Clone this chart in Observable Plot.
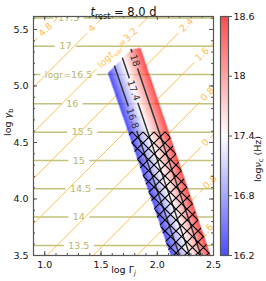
<!DOCTYPE html>
<html><head><meta charset="utf-8">
<script src="https://cdn.jsdelivr.net/npm/d3@7"></script>
<script src="https://cdn.jsdelivr.net/npm/@observablehq/plot@0.6"></script>
<style>
body{margin:0;background:#fff;}
#wrap{position:relative;width:266px;height:281px;font-family:"DejaVu Sans",sans-serif;}
#wrap svg{position:absolute;top:0;overflow:visible;}
</style></head><body>
<svg width="0" height="0" style="position:absolute"><defs>
<pattern id="xhatch" patternUnits="userSpaceOnUse" width="11" height="11">
<path d="M-1,-1L12,12M12,-1L-1,12" stroke="#000" stroke-width="1.2" fill="none"/>
</pattern></defs></svg>
<div id="wrap"></div>
<script>
// ---------------- data ----------------
const titleText = "*t*_{rest} = 8.0 d";
const xLabel = "log Γ_{*j*}";
const yLabel = "log *γ*_{b}";
const cbLabel = "log*ν*_{c} (Hz)";

const xTicks = [1.0, 1.5, 2.0, 2.5];
const yTicks = [3.5, 4.0, 4.5, 5.0, 5.5];
const cbTicks = [16.2, 16.8, 17.4, 18.0, 18.6];

// log r contours (olive, horizontal)
const logrLevels = [13.5, 14, 14.5, 15, 15.5, 16, 16.5, 17, 17.5];
const logrY      = [3.588, 3.840, 4.090, 4.340, 4.591, 4.842, 5.102, 5.352, 5.602];
const logrLabelX = [1.303, 1.303, 1.318, 1.303, 1.333, 1.244, 1.211, 1.184, 1.211];
const logrText   = ["13.5", "14", "14.5", "15", "15.5", "16", "logr=16.5", "17", "17.5"];

// log t_var contours (orange, diagonal): intercept = log γb − log Γj
const logtLevels    = [4.8, 4.0, 3.2, 2.4, 1.6, 0.8, 0, -0.8, -1.6];
const logtIntercept = [4.49, 4.09, 3.69, 3.28, 2.88, 2.48, 2.07, 1.68, 1.28];
const logtLabelX    = [1.007, 1.42, 1.647, 2.26, 2.40, 2.447, 2.429, 2.444, 2.414];
const logtText      = ["4.8", "4", "log*t*_{var}=3.2", "2.4", "1.6", "0.8", "0", "−0.8", "−1.6"];

// allowed band coloured by log ν_c: iso-lines (edges + contours)
const bandLevels  = [16.2, 16.8, 17.4, 18.0, 18.6];
const bandTopX    = [1.560, 1.6205, 1.6913, 1.7679, 1.851];
const bandTopY    = [5.117, 5.1755, 5.2463, 5.3229, 5.338];
const bandBottomX = [2.120, 2.198, 2.290, 2.389, 2.474];
const bandBottomY = 3.5;
const bandLabelY  = [null, 4.712, 4.960, 5.226, null];
const bandText    = [null, "16.8", "17.4", "18", null];
const hatchTopY   = 4.591;

// ---------------- layout ----------------
const W = 266, H = 281, mL = 33, mR = 53, mT = 16, mB = 26;
const xDom = [0.9, 2.5], yDom = [3.5, 5.615];
const kx = (W - mL - mR) / (xDom[1] - xDom[0]);
const ky = (H - mT - mB) / (yDom[1] - yDom[0]);
const FONT = "DejaVu Sans";
const fsTick = 9.5, fsLab = 9.5, fsTitle = 11.5;
const olive = "#c2c27e", oliveText = "#b8b86c", orange = "#ffbf4d", spine = "#555";

const ctx = document.createElement("canvas").getContext("2d");
function parseRich(str) {
  const out = []; let cur = {text: "", italic: false, sub: false};
  const push = () => { if (cur.text) out.push(cur); cur = {text: "", italic: cur.italic, sub: cur.sub}; };
  for (let i = 0; i < str.length; i++) {
    const c = str[i];
    if (c === "_" && str[i + 1] === "{") { push(); cur.sub = true; i++; }
    else if (c === "}" && cur.sub) { push(); cur.sub = false; }
    else if (c === "*") { push(); cur.italic = !cur.italic; }
    else cur.text += c;
  }
  push(); return out;
}
function textWidth(str, fs) {
  let w = 0;
  for (const t of parseRich(str)) {
    ctx.font = `${t.italic ? "italic " : ""}${t.sub ? fs * 0.7 : fs}px "${FONT}"`;
    w += ctx.measureText(t.text).width;
  }
  return w;
}
function richify(root) {
  d3.select(root).selectAll("text").each(function () {
    const s = this.textContent;
    if (!/[_*]/.test(s)) return;
    const fs = parseFloat(getComputedStyle(this).fontSize);
    const sel = d3.select(this); sel.text(null);
    let base = true;
    for (const t of parseRich(s)) {
      const ts = sel.append("tspan").text(t.text);
      if (t.italic) ts.attr("font-style", "italic");
      if (t.sub) { ts.attr("font-size", fs * 0.7); if (base) { ts.attr("dy", fs * 0.28); base = false; } }
      else if (!base) { ts.attr("dy", -fs * 0.28); base = true; }
    }
  });
}

// olive segments with gaps at labels
const oliveSegs = [], oliveLabels = [];
logrLevels.forEach((lev, i) => {
  const y = logrY[i], lx = logrLabelX[i];
  const g = (textWidth(logrText[i], fsLab) / 2 + 5) / kx;
  oliveSegs.push({x: xDom[0], y, z: i + "a"}, {x: lx - g, y, z: i + "a"},
                 {x: lx + g, y, z: i + "b"}, {x: xDom[1], y, z: i + "b"});
  oliveLabels.push({x: lx, y, text: logrText[i]});
});

// orange segments
const L45 = Math.hypot(kx, ky);
const orangeRot = Math.atan2(-ky, kx) * 180 / Math.PI;
const orangeSegs = [], orangeLabels = [];
logtIntercept.forEach((c, i) => {
  const x0 = Math.max(xDom[0], yDom[0] - c), x1 = Math.min(xDom[1], yDom[1] - c);
  const lx = logtLabelX[i];
  const g = (textWidth(logtText[i], fsLab) / 2 + 4) / L45;
  if (lx - g > x0) orangeSegs.push({x: x0, y: x0 + c, z: i + "a"}, {x: lx - g, y: lx - g + c, z: i + "a"});
  if (lx + g < x1) orangeSegs.push({x: lx + g, y: lx + g + c, z: i + "b"}, {x: x1, y: x1 + c, z: i + "b"});
  orangeLabels.push({x: lx, y: lx + c, text: logtText[i]});
});

// band iso-lines
const bandLines = bandLevels.map((lev, i) => ({lev, tx: bandTopX[i], ty: bandTopY[i], bx: bandBottomX[i], by: bandBottomY}));
const isoX = (l, y) => l.tx + (l.bx - l.tx) * (y - l.ty) / (l.by - l.ty);
const bandPoly = [...bandLines.map(l => [l.tx, l.ty]), [bandLines[4].bx, bandBottomY], [bandLines[0].bx, bandBottomY]];
function nuAt(x, y) {
  if (!d3.polygonContains(bandPoly, [x, y])) return NaN;
  const xs = bandLines.map(l => isoX(l, y));
  if (x <= xs[0]) return bandLevels[0];
  for (let k = 1; k < xs.length; k++) {
    if (x <= xs[k]) return bandLevels[k - 1] + (bandLevels[k] - bandLevels[k - 1]) * (x - xs[k - 1]) / (xs[k] - xs[k - 1]);
  }
  return bandLevels[bandLevels.length - 1];
}
const bandSegs = [], bandLabels = [];
bandLines.forEach((l, i) => {
  if (bandLabelY[i] == null) return;
  const ly = bandLabelY[i];
  const dxdy = (l.bx - l.tx) / (l.by - l.ty);
  const g = (textWidth(bandText[i], fsLab) / 2 + 3) / Math.hypot(dxdy * kx, ky);
  bandSegs.push({x: l.tx, y: l.ty, z: i + "a"}, {x: isoX(l, ly + g), y: ly + g, z: i + "a"},
                {x: isoX(l, ly - g), y: ly - g, z: i + "b"}, {x: l.bx, y: l.by, z: i + "b"});
  const rot = Math.atan2(ky * (l.ty - l.by), kx * (l.bx - l.tx)) * 180 / Math.PI;
  bandLabels.push({x: isoX(l, ly), y: ly, text: bandText[i], rot});
});
const hatchRows = [bandBottomY, hatchTopY].map(y => ({y, x1: isoX(bandLines[0], y), x2: isoX(bandLines[4], y)}));

// ticks
const xMinor = d3.range(9, 26).map(d => d / 10);
const yMinor = d3.range(35, 57).map(d => d / 10);
const tMaj = 4, tMin = 2;

const colorScale = {type: "linear", domain: [16.2, 17.4, 18.6], range: ["#0000ff", "#ffffff", "#ff0000"]};

const main = Plot.plot({
  width: W, height: H, marginLeft: mL, marginRight: mR, marginTop: mT, marginBottom: mB,
  style: {fontFamily: FONT, background: "transparent", overflow: "visible"},
  x: {domain: xDom, label: null},
  y: {domain: yDom, label: null},
  color: colorScale,
  marks: [
    Plot.line(oliveSegs, {x: "x", y: "y", z: "z", stroke: olive, strokeWidth: 1.5}),
    Plot.text(oliveLabels, {x: "x", y: "y", text: "text", fill: oliveText, fontSize: fsLab, clip: true}),
    Plot.line(orangeSegs, {x: "x", y: "y", z: "z", stroke: orange, strokeWidth: 1}),
    Plot.text(orangeLabels, {x: "x", y: "y", text: "text", fill: orange, fontSize: fsLab, rotate: orangeRot}),
    Plot.raster({fill: nuAt, x1: xDom[0], x2: xDom[1], y1: yDom[0], y2: yDom[1], pixelSize: 0.5, fillOpacity: 0.7, imageRendering: "auto"}),
    Plot.line(bandSegs, {x: "x", y: "y", z: "z", stroke: "#333", strokeWidth: 1.5}),
    Plot.areaX(hatchRows, {y: "y", x1: "x1", x2: "x2", fill: "url(#xhatch)"}),
    Plot.text(bandLabels, {x: "x", y: "y", text: "text", fill: "#333", fontSize: fsLab, rotate: d => d.rot}),
    Plot.frame({stroke: spine, strokeWidth: 1.2}),
    Plot.ruleX(xTicks, {x: d => d, y1: yDom[0], y2: yDom[0] + tMaj / ky, stroke: spine}),
    Plot.ruleX(xTicks, {x: d => d, y1: yDom[1] - tMaj / ky, y2: yDom[1], stroke: spine}),
    Plot.ruleX(xMinor, {x: d => d, y1: yDom[0], y2: yDom[0] + tMin / ky, stroke: spine}),
    Plot.ruleX(xMinor, {x: d => d, y1: yDom[1] - tMin / ky, y2: yDom[1], stroke: spine}),
    Plot.ruleY(yTicks, {y: d => d, x1: xDom[0], x2: xDom[0] + tMaj / kx, stroke: spine}),
    Plot.ruleY(yTicks, {y: d => d, x1: xDom[1] - tMaj / kx, x2: xDom[1], stroke: spine}),
    Plot.ruleY(yMinor, {y: d => d, x1: xDom[0], x2: xDom[0] + tMin / kx, stroke: spine}),
    Plot.ruleY(yMinor, {y: d => d, x1: xDom[1] - tMin / kx, x2: xDom[1], stroke: spine}),
    Plot.axisX({ticks: xTicks, tickSize: 0, tickPadding: 6, tickFormat: d3.format(".1f"), fontSize: fsTick, label: null, fill: "#111"}),
    Plot.axisY({ticks: yTicks, tickSize: 0, tickPadding: 5, tickFormat: d3.format(".1f"), fontSize: fsTick, label: null, fill: "#111"}),
    Plot.text([xLabel], {frameAnchor: "bottom", dy: 17, text: d => d, fontSize: fsTick, fill: "#111"}),
    Plot.text([yLabel], {frameAnchor: "left", dx: -26, rotate: -90, text: d => d, fontSize: fsTick, fill: "#111"}),
    Plot.text([titleText], {frameAnchor: "top", dy: -8.5, text: d => d, fontSize: fsTitle, fill: "#111"})
  ]
});

const cb = Plot.plot({
  width: 46, height: H, marginLeft: 0, marginRight: 38, marginTop: mT, marginBottom: mB,
  style: {fontFamily: FONT, background: "transparent", overflow: "visible"},
  x: {domain: [0, 1], axis: null},
  y: {domain: [16.2, 18.6], label: null},
  color: colorScale,
  marks: [
    Plot.raster({fill: (x, y) => y, x1: 0, x2: 1, y1: 16.2, y2: 18.6, pixelSize: 1, fillOpacity: 0.7}),
    Plot.frame({stroke: spine, strokeWidth: 1.2}),
    Plot.axisY({anchor: "right", ticks: cbTicks, tickSize: 3, tickPadding: 2, fontSize: fsTick, tickFormat: d => String(d), label: null, stroke: spine, fill: "#111"}),
    Plot.text([cbLabel], {frameAnchor: "right", dx: 29, rotate: -90, text: d => d, fontSize: fsTick, fill: "#111"})
  ]
});

const wrap = document.getElementById("wrap");
main.style.left = "0px";
cb.style.left = "220px";
wrap.appendChild(main);
wrap.appendChild(cb);
richify(main); richify(cb);
</script>
</body></html>
